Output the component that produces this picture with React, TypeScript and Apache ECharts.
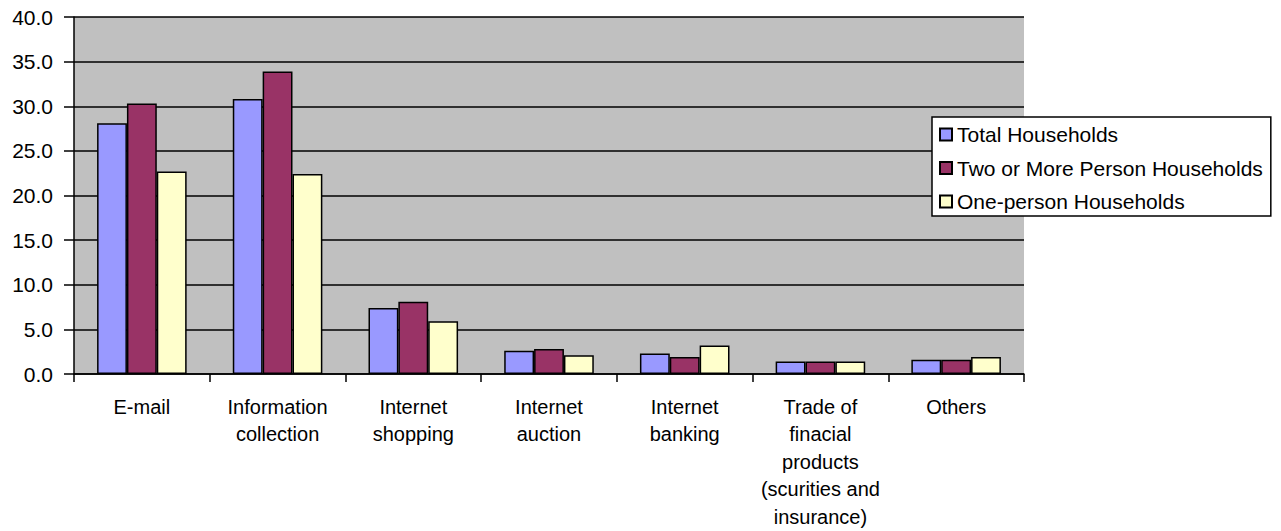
import React, { useEffect, useRef } from "react";
import * as echarts from "echarts";

const categories = [
  "E-mail",
  "Information\ncollection",
  "Internet\nshopping",
  "Internet\nauction",
  "Internet\nbanking",
  "Trade of\nfinacial\nproducts\n(scurities and\ninsurance)",
  "Others",
];
const totalHouseholds = [28.1, 30.8, 7.4, 2.6, 2.3, 1.4, 1.6];
const twoOrMore = [30.3, 33.9, 8.1, 2.8, 1.9, 1.4, 1.6];
const onePerson = [22.7, 22.4, 5.9, 2.1, 3.2, 1.4, 1.9];
const seriesNames = ["Total Households", "Two or More Person Households", "One-person Households"];
const seriesColors = ["#9999FF", "#993366", "#FFFFCC"];

export default function App() {
  const ref = useRef<HTMLDivElement>(null);
  useEffect(() => {
    if (!ref.current) return;
    const chart = echarts.init(ref.current, null, { renderer: "svg" });
    const font = "'Liberation Sans', Arial, sans-serif";
    const datas = [totalHouseholds, twoOrMore, onePerson];
    chart.setOption({
      animation: false,
      backgroundColor: "#ffffff",
      textStyle: { fontFamily: font, color: "#000" },
      grid: {
        left: 74,
        right: 257,
        top: 17,
        bottom: 157,
        show: true,
        backgroundColor: "#C0C0C0",
        borderWidth: 0,
        containLabel: false,
        outerBoundsMode: "none",
      },
      legend: {
        left: 932,
        top: 117,
        orient: "vertical",
        backgroundColor: "#ffffff",
        borderColor: "#000",
        borderWidth: 1.5,
        padding: [7, 8, 4, 7],
        itemGap: 12.5,
        itemWidth: 12,
        itemHeight: 12,
        icon: "rect",
        textStyle: { fontFamily: font, fontSize: 21, color: "#000", padding: [0, 0, 0, 0] },
        data: seriesNames,
      },
      xAxis: {
        type: "category",
        data: categories,
        boundaryGap: true,
        axisLine: { lineStyle: { color: "#000", width: 1.5 } },
        axisTick: { show: true, length: 8, inside: false, lineStyle: { color: "#000", width: 1.5 } },
        axisLabel: {
          interval: 0,
          margin: 19,
          fontFamily: font,
          fontSize: 20,
          color: "#000",
          lineHeight: 27.5,
          verticalAlign: "top",
        },
        splitLine: { show: false },
      },
      yAxis: {
        type: "value",
        min: 0,
        max: 40,
        interval: 5,
        axisLine: { show: true, lineStyle: { color: "#000", width: 1.5 } },
        axisTick: { show: true, length: 10, lineStyle: { color: "#000", width: 1.5 } },
        axisLabel: {
          margin: 21,
          fontFamily: font,
          fontSize: 21,
          color: "#000",
          formatter: (v: number) => v.toFixed(1),
        },
        splitLine: { show: true, lineStyle: { color: "#000", width: 1.5 } },
      },
      series: seriesNames.map((name, i) => ({
        name,
        type: "bar",
        data: datas[i],
        barGap: "0%",
        barCategoryGap: "34%",
        itemStyle: { color: seriesColors[i], borderColor: "#000", borderWidth: 1.5 },
      })),
    });
    return () => chart.dispose();
  }, []);
  return (
    <div
      ref={ref}
      style={{ position: "fixed", left: 0, top: 0, width: 1281, height: 531 }}
    />
  );
}
